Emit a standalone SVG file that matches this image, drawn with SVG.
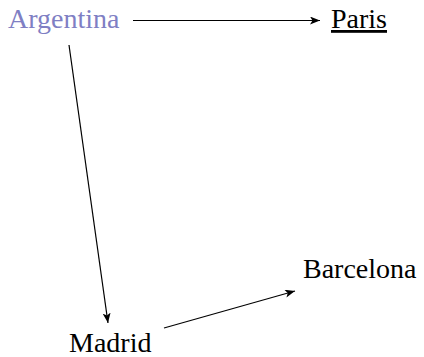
<svg xmlns="http://www.w3.org/2000/svg" width="424" height="357" viewBox="0 0 424 357">
<style>
text{font-size:28px;fill:#000}
.edge{stroke:#000;stroke-width:1.2;fill:none;marker-end:url(#ah)}
</style>
<defs>
<marker id="ah" markerWidth="10" markerHeight="8" refX="10" refY="4" orient="auto" markerUnits="userSpaceOnUse">
<path d="M0,0 L10,4 L0,8 L2.5,4 Z" fill="#000"/>
</marker>
</defs>
<rect width="424" height="357" fill="#fff"/>
<g id="connectors">
<line class="edge" x1="133" y1="20.5" x2="320" y2="20.5"/>
<line class="edge" x1="69" y1="45" x2="108" y2="323"/>
<line class="edge" x1="164" y1="328" x2="295" y2="291"/>
</g>
<g font-family="'Liberation Serif', 'DejaVu Serif', serif">
<g id="argentina"><text x="8" y="28" fill="#7f7fc4" style="fill:#7f7fc4">Argentina</text></g>
<g id="paris"><text x="331" y="28" text-decoration="underline">Paris</text></g>
<g id="barcelona"><text x="303" y="278">Barcelona</text></g>
<g id="madrid"><text x="69" y="352">Madrid</text></g>
</g>
</svg>
